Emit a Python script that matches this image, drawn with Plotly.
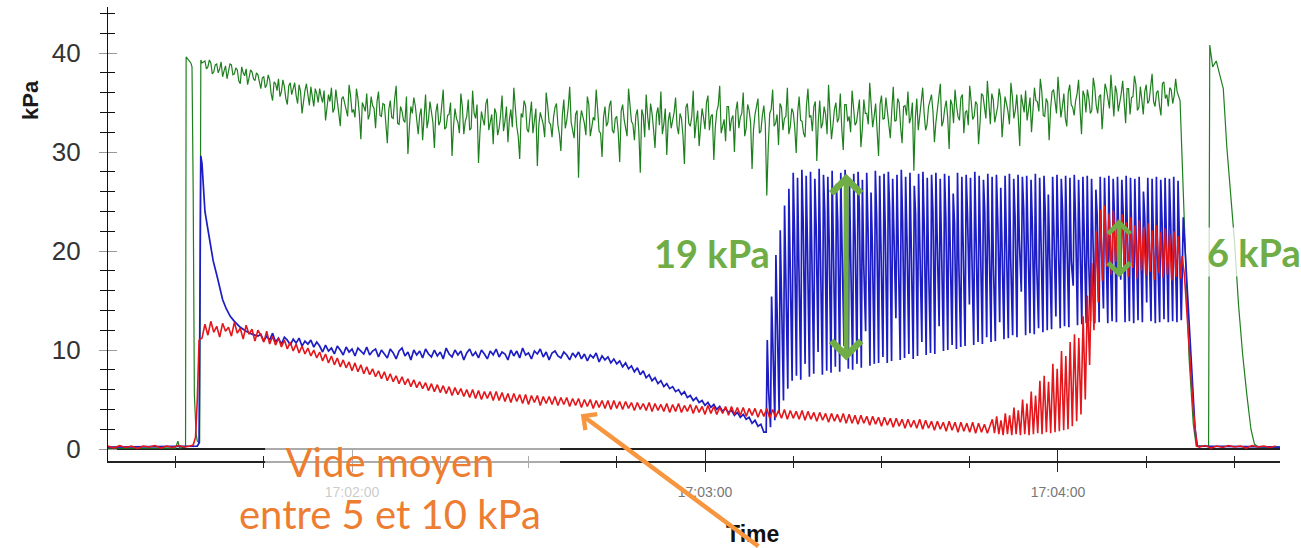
import pandas as pd
import plotly.graph_objects as go

# ---------------------------------------------------------------------------
# Pressure recording, times in seconds relative to 17:02:00
# ---------------------------------------------------------------------------
T_REF = "2021-03-01 17:02:00"
STEP = 0.5          # sampling step of the noisy stretches (s)
CYCLE = 0.735       # pulsation period (s)
CYCLE_START = 70.4  # first pulsation cycle (s)

# --- green channel -----------------------------------------------------------
green_lead_t = [-41.5, -30.0, -29.6, -29.3, -28.3, -28.2, -27.4, -27.2, -27.0,
                -26.8, -26.5, -26.3, -25.9, -25.7, -25.5]
green_lead_v = [0.1, 0.1, 0.8, 0.1, 0.2, 39.6, 39.0, 38.6, 26.0,
                5.5, 1.5, 0.8, 0.6, 39.3, 39.0]
green_start = -25.0
# samples on the STEP grid
green_noise = [
    39.2, 38.6, 39.0, 38.1, 38.9, 38.4, 37.6, 38.7, 38.2, 38.8, 37.9, 38.3, 36.9, 38.0, 38.4, 37.5, 38.1, 37.2, 37.8, 36.4,
    37.6, 36.8, 37.3, 35.2, 36.9, 37.4, 36.1, 36.6, 34.8, 37.0, 36.3, 35.7, 36.8, 33.9, 36.2, 35.5, 36.6, 34.6, 35.9, 36.4,
    35.0, 33.2, 35.8, 36.5, 34.4, 35.3, 32.6, 35.6, 34.2, 36.8, 34.0, 33.5, 35.4, 31.3, 34.6, 35.9, 33.8, 34.7, 32.4, 36.1,
    33.6, 34.8, 30.9, 35.2, 33.4, 36.7, 32.8, 34.1, 33.0, 29.8, 34.6, 35.5, 32.9, 33.7, 31.2, 35.8, 33.3, 34.2, 30.4, 34.9,
    33.1, 36.3, 32.5, 33.8, 29.6, 34.4, 33.0, 35.9, 31.8, 33.6, 32.2, 36.2, 33.4, 28.9, 34.1, 32.7, 35.4, 33.2, 30.8, 33.9,
    32.4, 35.7, 33.1, 31.0, 34.3, 36.5, 32.6, 29.3, 33.5, 34.7, 32.0, 35.1, 33.3, 28.6, 34.0, 32.8, 36.0, 33.0, 31.5, 34.5,
    32.7, 30.1, 35.3, 33.2, 36.6, 32.3, 33.8, 27.4, 34.2, 32.9, 35.6, 31.6, 33.5, 36.3, 32.1, 29.5, 34.6, 33.0, 35.2, 31.9,
    33.6, 29.0, 34.8, 32.5, 36.4, 33.1, 31.2, 34.3, 27.9, 33.7, 35.8, 32.2, 33.9, 30.4, 34.5, 36.1, 32.8, 29.7, 34.0, 33.2,
    35.5, 31.8, 33.4, 28.8, 34.9, 32.6, 36.2, 33.0, 30.6, 34.4, 32.3, 35.7, 33.6, 29.2, 34.1, 36.7, 32.7, 31.1, 34.6, 33.3,
    30.0, 35.1, 33.5, 36.0, 32.4, 34.2, 28.3, 33.8, 35.4, 32.1, 34.7, 25.6, 33.9, 36.3, 32.9, 30.7, 34.5, 33.4, 36.5, 32.6,
    34.0, 29.9, 35.6, 33.1, 31.5, 36.4, 33.7, 34.6, 29.1, 35.2, 32.9, 33.8, 36.8, 31.3, 34.3, 33.0, 35.9, 30.2, 34.8, 33.6,
    36.2, 32.7, 34.4, 30.5, 35.3, 33.9, 37.0, 32.5, 34.9, 29.6, 35.7, 33.4, 34.1, 31.4, 36.6, 33.2, 35.0, 30.9, 34.7, 36.1,
    33.5, 28.1, 35.4, 33.8, 36.5, 32.2, 34.6, 35.8, 31.0, 34.3, 36.9, 33.1, 35.2, 30.3, 34.8, 36.3, 33.6, 35.5, 31.9, 34.2,
    36.7, 33.3, 35.1, 30.8, 35.9, 34.4, 37.2, 32.8, 35.3, 33.9, 36.4, 31.5, 35.6, 34.1, 37.0, 33.4, 35.8, 30.6, 35.0, 36.2,
    34.3, 32.0, 36.5, 35.1, 37.4, 33.7, 35.4, 31.2, 36.1, 34.8, 37.6, 33.5, 35.9, 32.6, 36.8, 34.5, 35.2, 37.3, 31.8, 35.7,
    36.3, 33.9, 37.5, 34.7, 35.6, 32.3, 36.9, 35.3, 37.8, 33.6, 36.0, 34.9, 37.2, 32.9, 36.4, 35.5, 37.7, 34.2, 36.6, 33.8,
    36.8, 35.2, 37.9, 34.6, 36.2, 33.7, 37.1, 35.8, 36.5, 34.9, 37.4, 35.6,
]
# samples half-way between the grid points above
green_between = [
    38.4, 39.3, 37.9, 38.8, 38.0, 39.1, 38.2, 37.4, 38.9, 37.8, 38.5, 37.2, 38.6, 37.7, 36.8, 38.3, 37.4, 38.0, 36.9, 37.5,
    36.5, 37.8, 35.9, 37.1, 36.2, 35.6, 37.3, 35.4, 36.7, 35.8, 37.0, 34.9, 36.1, 35.3, 36.9, 34.7, 35.8, 36.4, 35.0, 35.6,
    36.2, 34.5, 35.1, 34.0, 36.3, 33.9, 35.4, 34.8, 33.6, 35.7, 34.3, 36.4, 33.8, 35.0, 34.1, 33.3, 35.6, 34.4, 35.1, 33.7,
    34.9, 32.8, 34.3, 33.5, 35.4, 32.9, 34.6, 33.2, 35.6, 32.5, 33.9, 34.7, 31.8, 34.4, 33.6, 32.4, 35.1, 33.0, 34.0, 32.7,
    34.5, 32.3, 33.7, 35.0, 32.6, 33.4, 31.9, 34.6, 33.1, 35.3, 32.4, 33.9, 34.8, 32.0, 33.3, 34.9, 32.2, 33.8, 34.4, 31.7,
    33.7, 32.1, 34.6, 33.3, 32.5, 34.1, 31.6, 33.9, 35.2, 32.3, 33.6, 31.9, 34.4, 32.7, 33.4, 31.5, 34.7, 32.8, 33.5, 34.9,
    31.8, 33.7, 32.4, 34.5, 33.0, 31.4, 34.2, 32.9, 33.6, 31.7, 34.8, 32.5, 33.2, 34.3, 31.9, 33.5, 32.6, 34.7, 32.2, 33.4,
    32.0, 34.1, 33.3, 31.6, 34.6, 32.8, 33.7, 32.1, 34.3, 31.5, 33.6, 34.9, 32.3, 33.8, 32.7, 31.8, 34.4, 33.1, 32.4, 34.0,
    32.6, 33.9, 31.7, 34.5, 32.9, 33.6, 31.4, 34.2, 32.8, 33.5, 35.0, 32.2, 33.8, 32.5, 34.7, 31.9, 33.3, 34.6, 32.1, 33.7,
    34.2, 32.4, 33.9, 31.6, 34.8, 33.0, 32.3, 34.5, 31.9, 33.7, 32.8, 30.5, 34.3, 32.6, 33.8, 34.9, 32.2, 33.6, 31.8, 34.4,
    32.5, 34.0, 33.2, 31.9, 34.7, 33.5, 32.1, 35.1, 33.0, 32.4, 34.6, 31.8, 33.9, 32.7, 35.0, 33.4, 32.3, 34.8, 33.1, 32.0,
    34.5, 33.0, 35.3, 32.4, 33.9, 32.8, 35.2, 33.6, 32.2, 34.8, 33.3, 35.5, 32.7, 34.2, 33.1, 35.4, 32.5, 34.6, 33.7, 32.9,
    35.0, 33.4, 32.2, 35.6, 33.9, 32.8, 35.2, 34.1, 33.0, 35.7, 32.6, 34.4, 33.5, 35.3, 32.9, 34.7, 33.2, 35.8, 34.0, 32.7,
    35.1, 33.6, 34.8, 32.9, 35.7, 33.4, 34.3, 35.9, 33.0, 34.6, 35.4, 33.3, 34.9, 32.8, 35.6, 34.2, 33.5, 35.8, 34.0, 33.2,
    35.5, 33.8, 35.2, 34.1, 36.1, 33.6, 35.0, 34.4, 36.3, 33.9, 35.6, 34.6, 33.4, 36.0, 34.8, 33.7, 35.9, 34.3, 36.2, 34.0,
    35.4, 34.2, 36.5, 33.9, 35.8, 34.6, 36.3, 34.4, 35.2, 36.7, 34.1, 35.9, 34.8, 36.4, 33.8, 35.6, 36.8, 34.5, 35.3, 36.1,
    34.9, 36.6, 35.1, 36.0, 34.7, 36.9, 35.4, 34.6, 36.3, 35.7, 36.1, 35.2,
]
green_tail_t = [141.0, 141.6, 142.3, 143.0, 143.5, 145.6, 145.8, 146.3, 146.9, 147.5,
                148.1, 148.7, 149.3, 150.0, 150.7, 151.4, 152.1, 152.8, 153.4, 154.0, 157.74]
green_tail_v = [31.0, 20.0, 9.0, 2.5, 0.3, 0.3, 40.8, 38.6, 39.2, 37.8,
                36.4, 30.5, 26.0, 21.0, 14.5, 9.5, 5.5, 2.0, 0.5, 0.2, 0.2]

# --- blue channel ------------------------------------------------------------
blue_lead_t = [-41.5, -26.3, -26.0, -25.7, -25.5, -25.3, -25.0, -24.5, -24.0, -23.6,
               -23.0, -22.4, -22.0, -21.4, -20.7, -20.0, -19.0, -18.0, -17.0, -16.0]
blue_lead_v = [0.2, 0.3, 0.6, 29.6, 28.8, 26.5, 24.0, 22.2, 20.6, 19.0,
               17.6, 16.0, 15.1, 14.2, 13.4, 12.9, 12.3, 11.9, 11.6, 11.4]
blue_start = -15.5
blue_noise = [
    11.6, 10.9, 11.4, 11.0, 11.7, 10.8, 11.2, 10.6, 11.3, 11.0, 10.5, 11.1, 10.7, 11.2, 10.4, 10.9, 10.6, 11.0, 10.3, 10.8,
    10.4, 9.8, 10.5, 9.9, 10.2, 9.6, 10.4, 10.0, 9.5, 10.3, 9.8, 10.1, 9.4, 10.2, 9.9, 9.6, 10.3, 9.5, 9.9, 10.1,
    9.3, 10.0, 9.6, 9.2, 10.1, 9.7, 9.1, 9.9, 10.2, 9.4, 9.8, 9.0, 10.0, 9.5, 9.9, 9.2, 10.1, 9.6, 9.3, 10.0,
    9.4, 9.8, 9.1, 10.2, 9.6, 9.3, 10.0, 9.5, 9.9, 9.0, 9.7, 10.1, 9.4, 9.8, 9.2, 10.0, 9.6, 9.1, 9.9, 9.5,
    10.1, 9.3, 9.8, 9.6, 9.0, 10.0, 9.4, 9.9, 9.2, 10.2, 9.5, 9.7, 9.1, 9.9, 9.6, 10.1, 9.3, 9.8, 9.0, 9.7,
    9.9, 9.4, 9.2, 9.8, 9.5, 9.0, 9.7, 9.3, 9.8, 9.1, 9.6, 8.9, 9.5, 9.2, 9.7, 8.8, 9.4, 9.0, 9.3, 8.7,
    9.1, 8.6, 8.9, 8.3, 8.7, 8.1, 8.4, 7.8, 8.2, 7.5, 7.9, 7.2, 7.5, 6.9, 7.2, 6.6, 6.9, 6.3, 6.6, 6.1,
    6.3, 5.8, 6.0, 5.5, 5.8, 5.2, 5.4, 4.9, 5.2, 4.7, 4.9, 4.4, 4.7, 4.2, 4.5, 4.0, 4.3, 3.8, 4.1, 3.7,
    3.9, 3.4, 3.7, 3.2, 3.5, 3.0, 3.2, 2.6, 2.9, 2.3, 2.5, 1.7,
]
# one value per pulsation cycle: bottom of the cycle, top, and the shoulder after the top
blue_trough = [
    1.7, 2.2, 2.9, 3.6, 4.9, 6.1,
    6.9, 7.4, 7.0, 8.6, 7.3, 7.6, 9.8, 7.5, 7.9, 7.7,
    8.3, 7.8, 10.4, 8.1, 8.0, 8.6, 8.2, 11.9, 8.4, 8.6,
    8.7, 9.3, 8.7, 8.9, 13.2, 9.0, 9.2, 9.6, 9.1, 9.4,
    10.8, 9.5, 9.7, 9.6, 12.4, 9.9, 10.0, 10.5, 10.1, 10.3,
    10.4, 14.6, 10.5, 10.8, 10.6, 11.3, 10.8, 10.9, 12.8, 11.1,
    11.2, 11.5, 11.3, 15.9, 11.5, 11.7, 11.6, 12.2, 11.8, 12.0,
    12.1, 13.4, 12.2, 12.4, 12.3, 16.5, 12.5, 12.6, 12.7, 12.9,
    12.7, 12.8, 14.2, 12.7, 12.9, 12.8, 17.1, 12.8, 12.9, 12.7,
    13.0, 12.8, 14.8, 12.9, 12.7, 12.8, 13.1, 12.8, 12.9, 12.8,
]
blue_peak = [
    11.0, 15.4, 19.6, 22.1, 24.6, 26.3, 27.9, 27.4, 28.2, 27.6,
    28.0, 27.3, 28.3, 27.7, 27.5, 28.1, 26.8, 27.9, 28.2, 27.4,
    27.8, 28.0, 27.2, 27.9, 25.9, 28.1, 27.6, 27.8, 28.0, 27.3,
    27.7, 28.2, 27.5, 27.9, 26.6, 27.8, 28.0, 27.4, 27.7, 27.9,
    27.3, 27.8, 27.6, 25.8, 27.9, 27.5, 27.7, 27.4, 28.0, 27.6,
    27.2, 27.8, 27.5, 27.7, 26.4, 27.6, 27.8, 27.3, 27.7, 27.5,
    27.6, 27.2, 27.8, 27.4, 27.6, 25.7, 27.5, 27.7, 27.3, 27.6,
    27.4, 27.7, 27.2, 27.5, 27.6, 27.3, 26.2, 27.5, 27.4, 27.6,
    27.3, 27.5, 27.2, 27.6, 27.4, 27.3, 27.5, 26.0, 27.4, 27.3,
    27.5, 27.2, 27.4, 27.3, 27.5, 27.1,
]
blue_shoulder = [
    6.0, 9.5, 13.0, 15.5, 17.5, 19.5,
    21.8, 18.9, 23.1, 20.4, 17.6, 22.5, 19.8, 24.0, 21.2, 18.4,
    22.9, 20.1, 23.6, 19.3, 21.7, 24.2, 18.8, 22.3, 20.6, 23.4,
    19.7, 22.0, 24.3, 20.9, 18.5, 23.0, 21.4, 19.9, 23.7, 20.3,
    22.6, 18.7, 24.1, 21.1, 19.6, 23.3, 20.5, 22.8, 18.9, 21.9,
    23.9, 20.0, 22.4, 19.4, 24.0, 21.3, 18.6, 23.2, 20.7, 22.1,
    19.2, 23.5, 21.0, 24.2, 20.2, 22.7, 18.8, 21.6, 23.8, 19.8,
    22.3, 20.4, 24.1, 21.2, 19.0, 23.1, 20.8, 22.6, 19.5, 21.8,
    23.6, 20.3, 22.0, 19.6, 23.3, 21.4, 24.0, 20.1, 22.5, 19.9,
    21.7, 23.4, 20.6, 22.2, 19.3, 23.0, 21.1, 22.8, 20.5, 21.9,
]
blue_last_trough = 13.0
blue_tail_t = [141.3, 141.8, 142.3, 142.8, 143.3, 143.7, 157.74]
blue_tail_v = [23.4, 18.0, 11.5, 6.5, 2.0, 0.3, 0.2]

# --- red channel -------------------------------------------------------------
red_base_start = -41.5
red_base = [0.3, 0.1, 0.35, 0.15, 0.3, 0.05, 0.3, 0.2, 0.35, 0.1, 0.3, 0.15, 0.35, 0.2, 0.3]
red_rise_t = [-27.0, -26.6, -26.3, -26.0]
red_rise_v = [0.4, 1.2, 5.0, 11.0]
red_start = -25.5
red_noise = [
    11.2, 12.6, 11.5, 12.9, 11.8, 12.4, 11.3, 12.7, 11.9, 12.3, 11.4, 12.8, 11.7, 12.2, 11.1, 12.5, 11.6, 12.1, 10.9, 12.0,
    11.5, 10.8, 11.9, 10.6, 11.4, 10.5, 11.2, 10.3, 11.0, 10.1, 10.8, 9.9, 10.6, 9.7, 10.4, 9.6, 10.2, 9.4, 10.0, 9.2,
    9.8, 8.9, 9.6, 8.7, 9.4, 8.5, 9.2, 8.3, 9.0, 8.2, 8.8, 7.9, 8.7, 7.8, 8.5, 7.6, 8.3, 7.5, 8.1, 7.3,
    7.9, 7.1, 7.8, 6.9, 7.6, 6.8, 7.4, 6.6, 7.3, 6.5, 7.1, 6.3, 7.0, 6.2, 6.8, 6.1, 6.7, 5.9, 6.6, 5.8,
    6.5, 5.7, 6.4, 5.6, 6.3, 5.4, 6.2, 5.5, 6.1, 5.3, 6.0, 5.2, 6.0, 5.1, 5.9, 5.0, 5.8, 5.1, 5.8, 4.9,
    5.8, 4.9, 5.7, 4.8, 5.6, 4.7, 5.6, 4.8, 5.5, 4.6, 5.5, 4.5, 5.4, 4.7, 5.4, 4.4, 5.3, 4.6, 5.3, 4.5,
    5.3, 4.4, 5.2, 4.5, 5.2, 4.3, 5.1, 4.4, 5.1, 4.2, 5.0, 4.3, 5.0, 4.1, 4.9, 4.2, 4.9, 4.1, 4.9, 4.0,
    4.9, 4.1, 4.8, 4.0, 4.8, 4.1, 4.7, 3.9, 4.7, 4.0, 4.6, 3.9, 4.7, 3.8, 4.6, 3.9, 4.5, 3.8, 4.6, 3.7,
    4.5, 3.8, 4.6, 3.7, 4.4, 3.8, 4.5, 3.6, 4.4, 3.7, 4.3, 3.5, 4.4, 3.6, 4.3, 3.5, 4.2, 3.6, 4.3, 3.4,
    4.3, 3.5, 4.2, 3.4, 4.2, 3.3, 4.1, 3.4, 4.1, 3.2, 4.0, 3.3, 4.1, 3.1, 4.0, 3.2, 3.9, 3.1, 4.0, 3.0,
    3.9, 3.1, 3.8, 3.0, 3.9, 2.9, 3.8, 3.0, 3.7, 2.8, 3.7, 2.9, 3.6, 2.7, 3.6, 2.8, 3.5, 2.7, 3.6, 2.6,
    3.5, 2.6, 3.4, 2.5, 3.4, 2.6, 3.3, 2.4, 3.3, 2.5, 3.2, 2.3, 3.2, 2.4, 3.1, 2.2, 3.1, 2.3, 3.0, 2.1,
    3.0, 2.2, 2.9, 2.1, 3.0, 2.0, 2.9, 2.1, 2.8, 1.9, 2.8, 2.0, 2.7, 1.8, 2.8, 1.9, 2.7, 1.7, 2.7, 1.8,
    2.6, 1.7, 2.7, 1.6, 2.6, 1.7, 2.5, 1.6,
]
red_cycle_first = 52  # red follows the pulsation from this cycle on
red_high = [
    3.0, 3.3, 2.9, 3.6, 3.4, 4.2, 3.9, 5.0, 4.6, 5.8,
    5.4, 6.9, 7.4, 6.8, 8.6, 8.1, 9.9, 9.4, 10.8, 11.6,
    11.2, 13.4, 15.5, 18.8, 22.0, 24.2, 24.6, 23.8, 24.1, 23.2,
    23.7, 22.9, 23.4, 22.6, 23.1, 22.4, 22.8, 22.1, 22.6, 21.9,
    22.3, 21.7, 22.0, 21.5,
]
red_low = [
    1.6, 1.5, 1.4, 1.5, 1.4, 1.5, 1.4, 1.5, 1.4, 1.5,
    1.6, 1.5, 1.7, 1.6, 1.7, 1.8, 1.9, 2.0, 2.3, 2.8,
    3.5, 5.0, 8.5, 12.0, 14.8, 17.0, 18.4, 17.6, 18.9, 17.8,
    18.6, 17.4, 18.3, 17.2, 18.0, 17.5, 17.9, 17.1, 17.8, 17.3,
    17.6, 17.0, 17.4, 17.2,
]
red_tail_t = [141.1, 141.5, 142.0, 142.5, 143.0, 143.6]
red_tail_v = [19.5, 17.5, 13.0, 8.5, 4.0, 0.3]
red_after_start = 144.0
red_after = [0.2, 0.35, 0.1, 0.3, 0.15, 0.35, 0.2, 0.3, 0.1, 0.35, 0.2, 0.3, 0.15, 0.3]

# --- annotated amplitudes (kPa) --------------------------------------------
swing_big = (84.0, 8.8, 27.8)      # time, bottom, top  -> 19 kPa
swing_small = (130.4, 17.2, 23.2)  # time, bottom, top  -> 6 kPa
mean_pointer = (38.9, 3.5)         # time, level

X_RANGE = (-41.48, 157.74)
Y_RANGE = (-1.21, 44.65)

GREEN = "#1e7f1e"
BLUE = "#1d1dc4"
RED = "#e3161b"
ANNOT_GREEN = "#70AD47"
ORANGE_TEXT = "#ED7D31"
ORANGE_ARROW = "#F7963F"


def at(seconds):
    """Seconds relative to 17:02:00 -> timestamps."""
    return pd.Timestamp(T_REF) + pd.to_timedelta(seconds, unit="s")


def regular(start, values, step=STEP):
    return [start + step * i for i in range(len(values))], list(values)


# assemble each channel from its pieces
g_t, g_v = list(green_lead_t), list(green_lead_v)
for i, (a, b) in enumerate(zip(green_noise, green_between)):
    s = green_start + STEP * i
    g_t += [s, s + STEP / 2]
    g_v += [a, b]
g_t += green_tail_t
g_v += green_tail_v

b_t, b_v = list(blue_lead_t), list(blue_lead_v)
t, v = regular(blue_start, blue_noise)
b_t += t
b_v += v
for k in range(len(blue_peak)):
    tk = CYCLE_START + k * CYCLE
    b_t += [tk, tk + 0.25 * CYCLE, tk + 0.55 * CYCLE]
    b_v += [blue_trough[k], blue_peak[k], blue_shoulder[k]]
b_t.append(CYCLE_START + len(blue_peak) * CYCLE)
b_v.append(blue_last_trough)
b_t += blue_tail_t
b_v += blue_tail_v

r_t, r_v = regular(red_base_start, red_base, 1.0)
r_t += red_rise_t
r_v += red_rise_v
t, v = regular(red_start, red_noise)
r_t += t
r_v += v
for j in range(len(red_high)):
    tk = CYCLE_START + (red_cycle_first + j) * CYCLE
    r_t += [tk + 0.3 * CYCLE, tk + 0.8 * CYCLE]
    r_v += [red_high[j], red_low[j]]
r_t += red_tail_t
r_v += red_tail_v
t, v = regular(red_after_start, red_after, 1.0)
r_t += t
r_v += v

fig = go.Figure()
for times, vals, col, w in ((g_t, g_v, GREEN, 1.2), (b_t, b_v, BLUE, 1.7), (r_t, r_v, RED, 1.6)):
    fig.add_trace(go.Scatter(x=at(times), y=vals, mode="lines",
                             line=dict(color=col, width=w),
                             hoverinfo="skip", showlegend=False))
# carrier for the second pair of axes (inner half of the tick marks)
fig.add_trace(go.Scatter(x=[], y=[], xaxis="x2", yaxis="y2", showlegend=False))

x_range = [at(X_RANGE[0]), at(X_RANGE[1])]
fig.update_layout(
    width=1301, height=548,
    margin=dict(l=108, r=21, t=7, b=87),
    plot_bgcolor="white", paper_bgcolor="white",
    font=dict(family="Liberation Sans, Arial, sans-serif", color="#222"),
    xaxis=dict(
        type="date", range=x_range, tick0=T_REF, dtick=60000,
        tickformat="%H:%M:%S", ticks="outside", ticklen=9, tickwidth=1.3,
        tickcolor="#222",
        minor=dict(tick0=T_REF, dtick=15000, ticks="outside", ticklen=5,
                   tickwidth=1.3, tickcolor="#222"),
        showline=True, linecolor="#222", linewidth=1.5,
        showgrid=False, zeroline=False,
        tickfont=dict(size=14, color="#777"), ticklabelstandoff=8,
        automargin=False,
    ),
    xaxis2=dict(
        type="date", range=x_range, overlaying="x", anchor="y2", side="bottom",
        tick0=T_REF, dtick=60000, ticks="inside", ticklen=12, tickwidth=1.3,
        tickcolor="#222",
        minor=dict(tick0=T_REF, dtick=15000, ticks="inside", ticklen=5,
                   tickwidth=1.3, tickcolor="#222"),
        showticklabels=False, showline=False, showgrid=False, zeroline=False,
        automargin=False,
    ),
    yaxis=dict(
        range=list(Y_RANGE), tick0=0, dtick=10, ticks="outside", ticklen=8,
        tickwidth=1.3, tickcolor="#9a9a9a",
        minor=dict(tick0=0, dtick=2, ticks="outside", ticklen=7,
                   tickwidth=1.3, tickcolor="#111"),
        showline=True, linecolor="#111", linewidth=1.3,
        showgrid=False, zeroline=True, zerolinecolor="#222", zerolinewidth=1.5,
        tickfont=dict(size=26, color="#333"), ticklabelstandoff=13,
        automargin=False,
    ),
    yaxis2=dict(
        range=list(Y_RANGE), overlaying="y", anchor="x2", side="left",
        tick0=0, dtick=10, ticks="inside", ticklen=9, tickwidth=1.3,
        tickcolor="#9a9a9a",
        minor=dict(tick0=0, dtick=2, ticks="inside", ticklen=7,
                   tickwidth=1.3, tickcolor="#111"),
        showticklabels=False, showline=False, showgrid=False, zeroline=False,
        automargin=False,
    ),
)

# light veil behind the orange comment
fig.add_shape(type="rect", xref="paper", yref="paper",
              x0=0.134, x1=0.3857, y0=-0.156, y1=0.044,
              fillcolor="rgba(255,255,255,0.62)", line=dict(width=0), layer="above")

annotations = [
    dict(text="<b>kPa</b>", xref="paper", yref="paper", x=-0.0666, y=0.795,
         xanchor="center", yanchor="middle",
         textangle=-90, showarrow=False, font=dict(size=22, color="#1a1a1a")),
    dict(text="<b>Time</b>", xref="paper", yref="paper", x=0.5495, y=-0.128,
         xanchor="center", yanchor="top", showarrow=False,
         font=dict(size=23, color="#111")),
    dict(text="<b>19 kPa</b>", xref="paper", yref="paper", x=0.5154, y=0.458,
         xanchor="center", yanchor="middle", showarrow=False,
         font=dict(family="Lato, sans-serif", size=38, color=ANNOT_GREEN)),
    dict(text="<b>6 kPa</b>", xref="paper", yref="paper", x=0.9778, y=0.4604,
         xanchor="center", yanchor="middle", showarrow=False,
         bgcolor="rgba(255,255,255,0.75)",
         font=dict(family="Lato, sans-serif", size=38, color=ANNOT_GREEN)),
    dict(text="Vide moyen<br>entre 5 et 10 kPa", xref="paper", yref="paper",
         x=0.2406, y=-0.0595, xanchor="center", yanchor="middle", showarrow=False,
         font=dict(family="Lato, sans-serif", size=40, color=ORANGE_TEXT)),
    dict(text="", x=at(mean_pointer[0]), y=mean_pointer[1], xref="x", yref="y",
         ax=179, ay=133, showarrow=True, arrowhead=4, arrowsize=0.85,
         arrowwidth=4.5, arrowcolor=ORANGE_ARROW),
]
for tt, lo, hi, size, width in ((swing_big[0], swing_big[1], swing_big[2], 1.15, 5),
                                (swing_small[0], swing_small[1], swing_small[2], 0.95, 4.5)):
    annotations.append(dict(
        text="", x=at(tt), y=hi, ax=at(tt), ay=lo, xref="x", yref="y",
        axref="x", ayref="y", showarrow=True, arrowside="end+start",
        arrowhead=4, startarrowhead=4, arrowsize=size, startarrowsize=size,
        arrowwidth=width, arrowcolor=ANNOT_GREEN))
fig.update_layout(annotations=annotations)

fig.write_html("out.html")
